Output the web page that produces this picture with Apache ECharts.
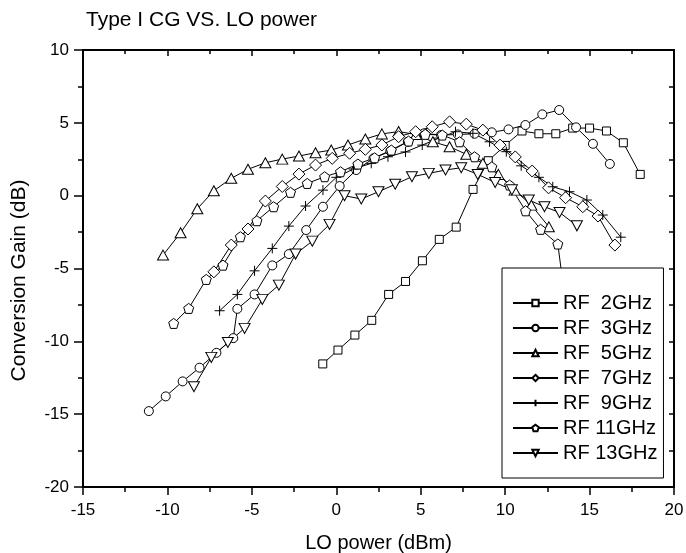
<!DOCTYPE html>
<html>
<head>
<meta charset="utf-8">
<script src="https://cdn.jsdelivr.net/npm/echarts@6/dist/echarts.min.js"></script>
<style>html,body{margin:0;padding:0;background:#fff}#c{width:686px;height:553px}</style>
</head>
<body>
<div id="c"></div>
<script>
// ---- data ----
const seriesNames = ['RF  2GHz', 'RF  3GHz', 'RF  5GHz', 'RF  7GHz', 'RF  9GHz', 'RF 11GHz', 'RF 13GHz'];

const x2 = [-0.8, 0.1, 1.1, 2.1, 3.1, 4.1, 5.1, 6.1, 7.1, 8.1, 9.0, 10.0, 11.0, 12.0, 13.0, 14.0, 15.0, 16.0, 17.0, 18.0];
const y2 = [-11.55, -10.6, -9.57, -8.56, -6.78, -5.89, -4.47, -3.0, -2.16, 0.43, 2.4, 3.45, 4.44, 4.25, 4.25, 4.64, 4.64, 4.44, 3.63, 1.46];

const x3 = [-11.1, -10.1, -9.1, -8.1, -7.1, -6.1, -5.86, -4.84, -3.79, -2.81, -1.78, -0.79, 0.2, 1.18, 2.2, 3.2, 4.24, 5.2, 6.2, 7.2, 8.19, 9.21, 10.2, 11.2, 12.2, 13.2, 14.2, 15.2, 16.2];
const y3 = [-14.79, -13.78, -12.75, -11.81, -10.79, -9.78, -7.77, -6.78, -4.79, -4.01, -2.36, -0.76, 0.66, 1.76, 2.56, 3.06, 3.7, 4.28, 4.16, 4.2, 4.25, 4.35, 4.55, 4.85, 5.58, 5.88, 4.69, 3.56, 2.18];

const x5 = [-10.26, -9.22, -8.23, -7.25, -6.22, -5.23, -4.2, -3.2, -2.21, -1.23, -0.3, 0.69, 1.72, 2.7, 3.69, 4.72, 5.72, 6.71, 7.7, 8.68, 9.6, 10.56, 11.55, 12.59];
const y5 = [-4.08, -2.55, -0.9, 0.34, 1.19, 1.81, 2.26, 2.51, 2.72, 2.95, 3.13, 3.48, 3.89, 4.24, 4.4, 4.2, 3.7, 3.36, 2.84, 2.22, 1.46, 0.38, -0.65, -2.14];

const x7 = [-7.25, -6.22, -5.23, -4.2, -3.2, -2.21, -1.23, -0.24, 0.79, 1.72, 2.7, 3.69, 4.7, 5.68, 6.71, 7.7, 8.68, 9.7, 10.6, 11.6, 12.57, 13.58, 14.6, 15.5, 16.5];
const y7 = [-5.23, -3.39, -2.29, -0.37, 0.63, 1.48, 2.1, 2.56, 2.91, 3.18, 3.48, 4.05, 4.39, 4.73, 5.07, 4.91, 4.5, 3.47, 2.66, 1.69, 0.54, -0.14, -0.76, -1.4, -3.39];

const x9 = [-6.91, -5.86, -4.84, -3.79, -2.81, -1.82, -0.79, 0.0, 1.02, 2.07, 3.06, 4.1, 5.09, 6.08, 7.06, 8.09, 9.08, 10.07, 10.95, 12.0, 12.82, 13.81, 14.84, 15.78, 16.85];
const y9 = [-7.9, -6.78, -5.16, -3.62, -2.09, -0.71, 0.38, 1.26, 1.83, 2.22, 2.67, 3.0, 3.47, 3.95, 4.39, 4.28, 3.7, 3.02, 2.05, 1.26, 0.61, 0.27, -0.3, -1.33, -2.85];

const x11 = [-9.63, -8.74, -7.7, -6.71, -5.68, -4.7, -3.71, -2.71, -1.72, -0.69, 0.25, 1.28, 2.27, 3.26, 4.28, 5.27, 6.28, 7.3, 8.19, 9.21, 10.26, 11.21, 12.1, 13.12, 14.1];
const y11 = [-8.77, -7.74, -5.75, -4.77, -2.82, -1.72, -0.76, 0.23, 0.84, 1.3, 1.64, 2.17, 2.6, 3.13, 3.75, 4.21, 4.16, 3.7, 2.67, 1.98, 0.73, -1.04, -2.31, -3.32, -12.0];

const x13 = [-8.43, -7.4, -6.42, -5.43, -4.38, -3.4, -2.41, -1.42, -0.4, 0.49, 1.48, 2.5, 3.49, 4.48, 5.48, 6.47, 7.4, 8.38, 9.41, 10.4, 11.4, 12.33, 13.22, 14.25];
const y13 = [-13.12, -11.1, -10.08, -9.11, -7.12, -6.14, -4.01, -3.12, -1.97, 0.0, -0.23, 0.27, 0.78, 1.3, 1.53, 1.76, 1.92, 1.46, 0.91, 0.4, -0.3, -0.76, -1.15, -2.07];

const xTicks = [-15, -10, -5, 0, 5, 10, 15, 20];
const yTicks = [-20, -15, -10, -5, 0, 5, 10];

// ---- styling ----
const FONT = 'Arial, "Liberation Sans", sans-serif';
const symbols = [
  {symbol: 'rect', size: 8},
  {symbol: 'circle', size: 9},
  {symbol: 'triangle', size: [11, 10]},
  {symbol: 'diamond', size: 12},
  {symbol: 'path://M0,5 L10,5 M5,0 L5,10', size: 10},
  {symbol: 'path://M5,0 L10,3.8 L8.1,10 L1.9,10 L0,3.8 Z', size: 10},
  {symbol: 'path://M0,0 L10,0 L5,9 Z', size: [11, 10]}
];
const xs = [x2, x3, x5, x7, x9, x11, x13];
const ys = [y2, y3, y5, y7, y9, y11, y13];

const series = seriesNames.map((name, i) => ({
  name: name,
  type: 'line',
  data: xs[i].map((v, k) => [v, ys[i][k]]),
  symbol: symbols[i].symbol,
  symbolSize: symbols[i].size,
  showAllSymbol: true,
  lineStyle: {color: '#000', width: 1},
  itemStyle: {color: '#fff', borderColor: '#000', borderWidth: 1},
  emphasis: {disabled: true},
  animation: false,
  z: 2
}));

const chart = echarts.init(document.getElementById('c'), null, {renderer: 'canvas'});
chart.setOption({
  backgroundColor: '#fff',
  animation: false,
  title: {
    text: 'Type I CG VS. LO power',
    left: 86, top: 10, padding: 0,
    textStyle: {fontFamily: FONT, fontSize: 21, fontWeight: 'normal', color: '#000'}
  },
  grid: {left: 83, right: 12, top: 50, bottom: 66, containLabel: false, outerBoundsMode: 'none'},
  legend: {
    orient: 'vertical',
    left: 502, top: 268,
    padding: [25, 6, 15, 10],
    itemWidth: 45, itemHeight: 8, itemGap: 5,
    borderColor: '#000', borderWidth: 1,
    backgroundColor: '#fff',
    selectedMode: false,
    data: seriesNames,
    textStyle: {fontFamily: FONT, fontSize: 20, lineHeight: 20, color: '#000'},
    z: 10
  },
  xAxis: [
    {
      type: 'value', position: 'bottom', min: xTicks[0], max: xTicks[xTicks.length - 1], interval: 5,
      name: 'LO power (dBm)', nameLocation: 'middle', nameGap: 46,
      nameTextStyle: {fontFamily: FONT, fontSize: 20, color: '#000'},
      axisLine: {onZero: false, lineStyle: {color: '#000', width: 2}},
      axisTick: {inside: false, length: 8, lineStyle: {color: '#000', width: 1.5}},
      minorTick: {show: true, splitNumber: 2, length: 5, lineStyle: {color: '#000', width: 1.5}},
      axisLabel: {fontFamily: FONT, fontSize: 17, color: '#000', margin: 15},
      splitLine: {show: false}
    },
    {
      type: 'value', position: 'top', min: xTicks[0], max: xTicks[xTicks.length - 1], interval: 5,
      axisLine: {onZero: false, lineStyle: {color: '#000', width: 2}},
      axisTick: {inside: true, length: 6, lineStyle: {color: '#000', width: 1.5}},
      minorTick: {show: true, splitNumber: 2, length: 4, lineStyle: {color: '#000', width: 1.5}},
      axisLabel: {show: false},
      splitLine: {show: false}
    }
  ],
  yAxis: [
    {
      type: 'value', position: 'left', min: yTicks[0], max: yTicks[yTicks.length - 1], interval: 5,
      name: 'Conversion Gain (dB)', nameLocation: 'middle', nameGap: 53,
      nameTextStyle: {fontFamily: FONT, fontSize: 21, color: '#000', padding: [0, 24, 0, 0]},
      axisLine: {onZero: false, lineStyle: {color: '#000', width: 2}},
      axisTick: {inside: false, length: 9, lineStyle: {color: '#000', width: 1.5}},
      minorTick: {show: true, splitNumber: 2, length: 5, lineStyle: {color: '#000', width: 1.5}},
      axisLabel: {fontFamily: FONT, fontSize: 17, color: '#000', margin: 14},
      splitLine: {show: false}
    },
    {
      type: 'value', position: 'right', min: yTicks[0], max: yTicks[yTicks.length - 1], interval: 5,
      axisLine: {onZero: false, lineStyle: {color: '#000', width: 2}},
      axisTick: {inside: true, length: 5, lineStyle: {color: '#000', width: 1.5}},
      minorTick: {show: true, splitNumber: 2, length: 5, lineStyle: {color: '#000', width: 1.5}},
      axisLabel: {show: false},
      splitLine: {show: false}
    }
  ],
  series: series
});
</script>
</body>
</html>
